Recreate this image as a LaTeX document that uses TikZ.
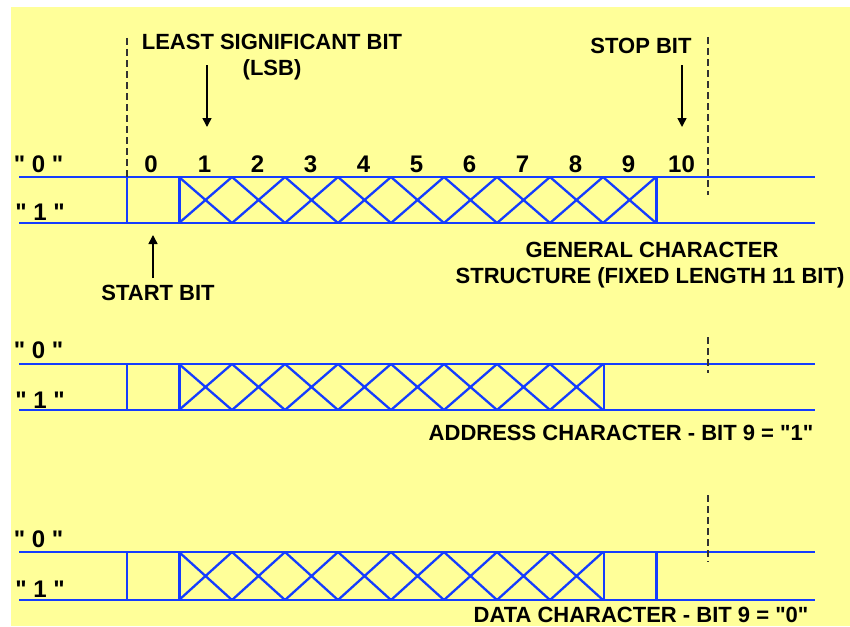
\documentclass[tikz,border=0pt]{standalone}
\usepackage{fontspec}
\setmainfont{Liberation Sans}[Ligatures=TeXOff]
\usetikzlibrary{arrows.meta}
\definecolor{bgyellow}{RGB}{255,255,153}
\definecolor{sigblue}{RGB}{20,60,255}
\newcommand{\sq}{\char34\relax}
\begin{document}
\begin{tikzpicture}[x=1pt,y=-1pt,
  lbl/.style={font=\fontsize{22}{26}\selectfont\bfseries, inner sep=0pt, anchor=base, text=black},
  num/.style={font=\fontsize{24}{28}\selectfont\bfseries, inner sep=0pt, anchor=base, text=black},
  sig/.style={draw=sigblue, line width=2pt},
  xline/.style={draw=sigblue, line width=2.3pt},
  edgeline/.style={draw=sigblue, line width=3pt},
  guide/.style={draw=black!80, line width=1.2pt, dash pattern=on 7pt off 4pt},
  pointer/.style={draw=black, line width=1.5pt, -{Triangle[length=9pt,width=9pt]}}
]
\useasboundingbox (0,0) rectangle (850,626);
\fill[white] (0,0) rectangle (850,626);
\fill[bgyellow] (11,7) rectangle (850,626);

% ---------- Row A: general character ----------
\draw[sig] (19,177) -- (815,177);
\draw[sig] (19,223) -- (815,223);
\draw[sig] (127,177) -- (127,223);
\foreach \k in {0,...,8}{
  \draw[xline] ({179+53*\k},177) -- ({232+53*\k},223);
  \draw[xline] ({179+53*\k},223) -- ({232+53*\k},177);
}
\draw[edgeline] (179,177) -- (179,223);
\draw[edgeline] (656,177) -- (656,223);
\draw[guide] (127,38) -- (127,177);
\draw[guide] (708,37) -- (708,195);

\node[num] (a0) at (38.5,172) {"\ 0\ "};
\node[num] (a1) at (40,220) {"\ 1\ "};
\node[num] (b0) at (151,172) {0};
\foreach \k in {1,...,10}{
  \node[num] (bit\k) at ({178+53*(\k-0.5)},172) {\k};
}

\node[lbl] (lsb1) at (272,49) {LEAST SIGNIFICANT BIT};
\node[lbl] (lsb2) at (272,75) {(LSB)};
\node[lbl] (stop) at (641,53) {STOP BIT};
\node[lbl] (start) at (158,300) {START BIT};
\node[lbl] (gen1) at (652,257) {GENERAL CHARACTER};
\node[lbl] (gen2) at (650,283) {STRUCTURE (FIXED LENGTH 11 BIT)};

\coordinate (lsbtail) at (207,65);
\coordinate (lsbtip) at (207,127);
\coordinate (stoptail) at (682,65);
\coordinate (stoptip) at (682,127);
\coordinate (starttail) at (153,278);
\coordinate (starttip) at (153,235);
\draw[pointer] (lsbtail) -- (lsbtip);
\draw[pointer] (stoptail) -- (stoptip);
\draw[pointer] (starttail) -- (starttip);

% ---------- Row B: address character ----------
\draw[sig] (19,364) -- (815,364);
\draw[sig] (19,410) -- (815,410);
\draw[sig] (127,364) -- (127,410);
\foreach \k in {0,...,7}{
  \draw[xline] ({179+53*\k},364) -- ({232+53*\k},410);
  \draw[xline] ({179+53*\k},410) -- ({232+53*\k},364);
}
\draw[edgeline] (179,364) -- (179,410);
\draw[sig] (604,364) -- (604,410);
\draw[guide] (708,337) -- (708,373);

\node[num] (c0) at (38.5,358) {"\ 0\ "};
\node[num] (c1) at (40,408) {"\ 1\ "};
\node[lbl] (addr) at (621,440) {ADDRESS CHARACTER - BIT 9 = "1"};

% ---------- Row C: data character ----------
\draw[sig] (19,552) -- (815,552);
\draw[sig] (19,600) -- (815,600);
\draw[sig] (127,552) -- (127,600);
\foreach \k in {0,...,7}{
  \draw[xline] ({179+53*\k},552) -- ({232+53*\k},600);
  \draw[xline] ({179+53*\k},600) -- ({232+53*\k},552);
}
\draw[edgeline] (179,552) -- (179,600);
\draw[sig] (604,552) -- (604,600);
\draw[edgeline] (656,552) -- (656,600);
\draw[guide] (708,495) -- (708,562);

\node[num] (d0) at (38.5,547) {"\ 0\ "};
\node[num] (d1) at (40,597) {"\ 1\ "};
\node[lbl] (data) at (641,622) {DATA CHARACTER - BIT 9 = "0"};
\end{tikzpicture}
\end{document}
